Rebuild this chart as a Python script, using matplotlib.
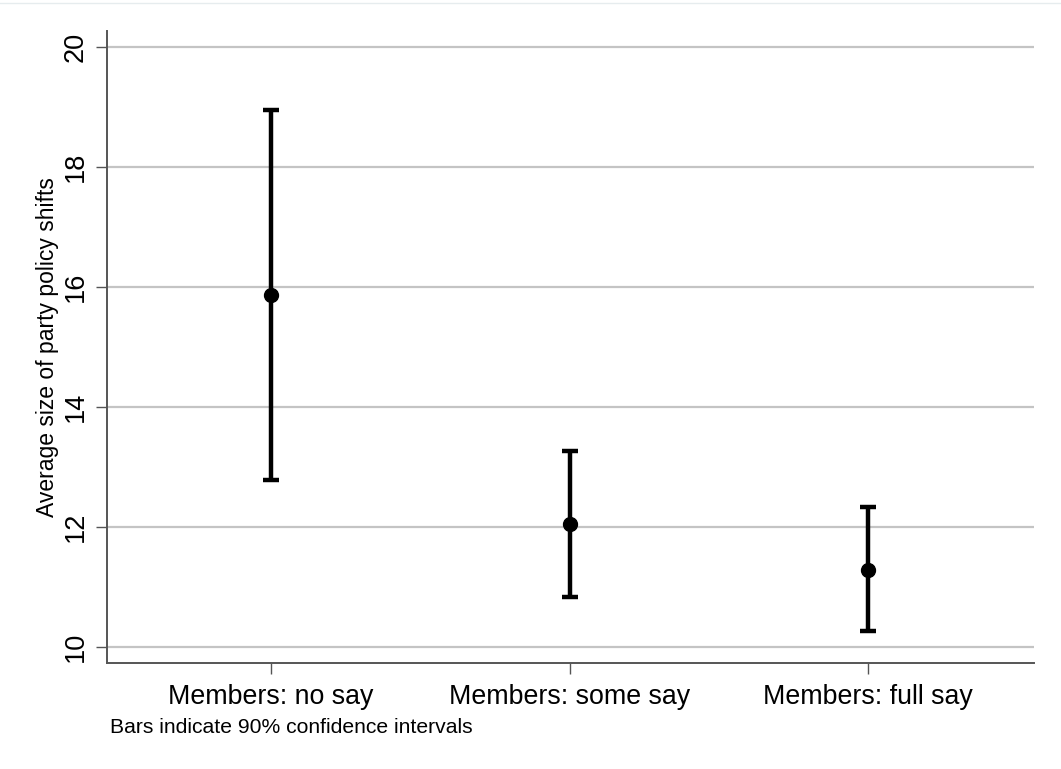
import matplotlib
matplotlib.use("Agg")
import matplotlib.pyplot as plt
from matplotlib.lines import Line2D

plt.rcParams['font.family'] = ['Liberation Sans', 'DejaVu Sans']

# group means and 90% confidence bounds
categories = ["Members: no say", "Members: some say", "Members: full say"]
means = [15.87, 12.05, 11.28]
ci_low = [12.78, 10.84, 10.26]
ci_high = [18.95, 13.27, 12.34]
yticks = [10, 12, 14, 16, 18, 20]

fig = plt.figure(figsize=(10.61, 7.69), dpi=100)
ax = fig.add_axes([0.1008, 0.1378, 0.8738, 0.8219])

xpos = list(range(1, len(categories) + 1))
lower_err = [m - lo for m, lo in zip(means, ci_low)]
upper_err = [hi - m for m, hi in zip(means, ci_high)]

for y in yticks:
    ax.axhline(y, color='#c4c4c4', linewidth=1.6, zorder=1)

ax.errorbar(xpos, means, yerr=[lower_err, upper_err], fmt='o', color='black',
            ecolor='black', elinewidth=3.2, capsize=5.5, capthick=3.2,
            markersize=10, zorder=3)

ax.set_xlim(0.45, 3.556)
ax.set_ylim(9.733, 20.267)
ax.set_xticks(xpos)
ax.set_xticklabels(categories, fontsize=19.3)
ax.set_yticks(yticks)
ax.set_yticklabels([str(v) for v in yticks], fontsize=19.5, rotation=90, va='center')
ax.tick_params(axis='x', length=8, width=1, color='#555555', pad=7)
ax.tick_params(axis='y', length=8, width=1, color='#555555', pad=5)

for side in ['top', 'right']:
    ax.spines[side].set_visible(False)
for side in ['left', 'bottom']:
    ax.spines[side].set_color('#555555')
    ax.spines[side].set_linewidth(1.4)

ax.set_ylabel("Average size of party policy shifts", fontsize=16.5)
ax.yaxis.set_label_coords(-0.052, 0.5)

fig.text(0.104, 0.054, "Bars indicate 90% confidence intervals", fontsize=15.2,
         ha='left', va='center')

# thin pale rule along the top edge
fig.add_artist(Line2D([0, 1], [0.996, 0.996], color='#e6ecee', linewidth=1))

fig.savefig("out.png", dpi=100)
